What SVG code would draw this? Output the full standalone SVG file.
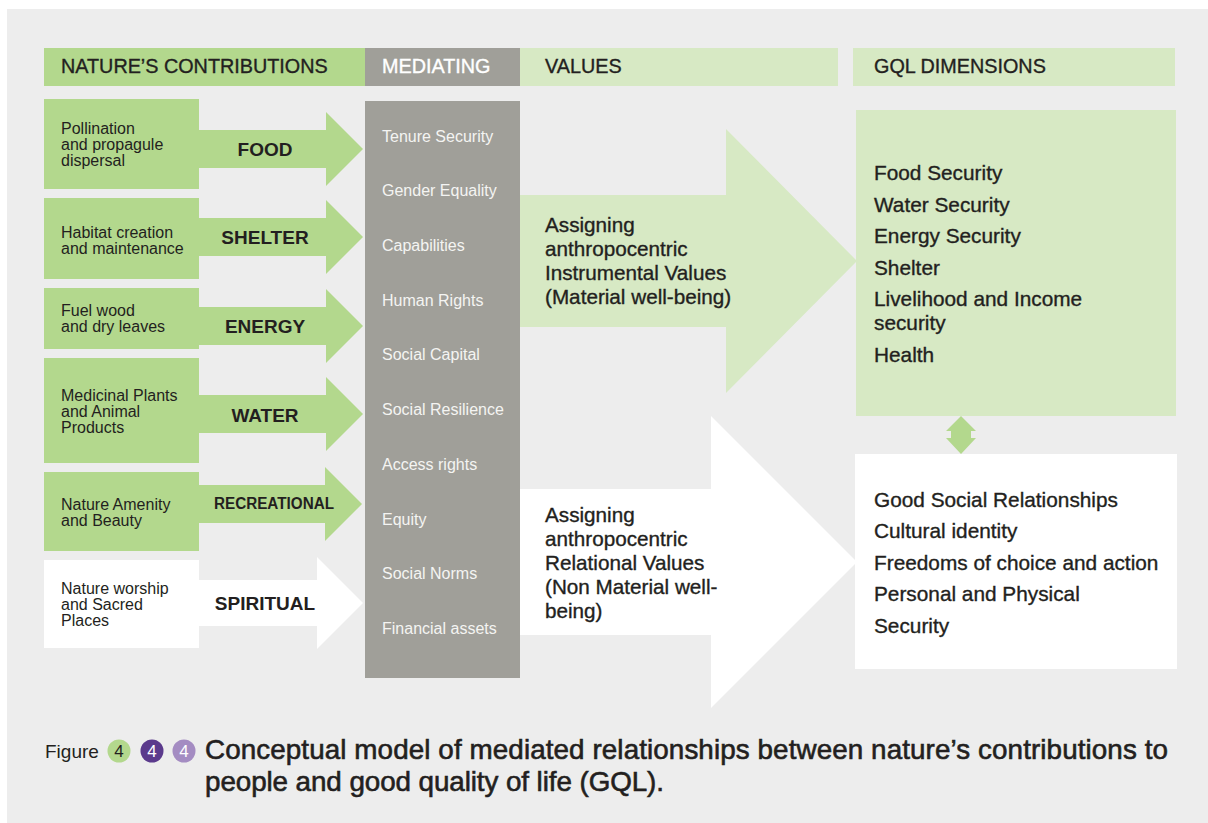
<svg xmlns="http://www.w3.org/2000/svg" width="1208" height="823" viewBox="0 0 1208 823">
<style>
text{font-family:"Liberation Sans",Arial,Helvetica,sans-serif;}
.g{fill:#B3D88D;}
.lg{fill:#D7E9C4;}
.gr{fill:#A09F99;}
.w{fill:#FFFFFF;}
.hd{font-size:19.8px;fill:#231F20;stroke:#231F20;stroke-width:0.35;}
.hdw{font-size:19.8px;fill:#FFFFFF;stroke:#FFFFFF;stroke-width:0.35;}
.src{font-size:16px;fill:#231F20;}
.lbl{font-size:19px;font-weight:bold;fill:#231F20;text-anchor:middle;}
.med{font-size:16px;fill:#F4F4F2;}
.big{font-size:20.7px;fill:#231F20;stroke:#231F20;stroke-width:0.35;}
.gql{font-size:20.8px;fill:#231F20;stroke:#231F20;stroke-width:0.35;}
.cap{font-size:27.8px;fill:#231F20;stroke:#231F20;stroke-width:0.6;}
.fig{font-size:19px;fill:#231F20;}
.num{font-size:17px;text-anchor:middle;}
</style>
<rect x="7" y="9" width="1201" height="814" fill="#EDEDED"/>

<g id="headers">
  <rect class="g" x="44" y="48" width="321" height="38"/>
  <text class="hd" x="61" y="73">NATURE’S CONTRIBUTIONS</text>
  <rect class="gr" x="365" y="48" width="155" height="38"/>
  <text class="hdw" x="382" y="73">MEDIATING</text>
  <rect class="lg" x="520" y="48" width="318" height="38"/>
  <text class="hd" x="545" y="73">VALUES</text>
  <rect class="lg" x="853" y="48" width="322" height="38"/>
  <text class="hd" x="874" y="73">GQL DIMENSIONS</text>
</g>

<g id="connectors">
  <polygon class="g" points="199,130 326,130 326,112 363,149 326,186 326,168 199,168"/>
  <polygon class="g" points="199,218 326,218 326,200 363,237 326,274 326,256 199,256"/>
  <polygon class="g" points="199,307 326,307 326,289 363,326 326,363 326,345 199,345"/>
  <polygon class="g" points="199,395 326,395 326,377 363,414 326,451 326,433 199,433"/>
  <polygon class="g" points="199,485 325,485 325,467 362,504 325,541 325,523 199,523"/>
  <polygon class="w" points="199,580 317,580 317,557 363,603 317,649 317,626 199,626"/>
  <polygon class="lg" points="520,195 726,195 726,129 857,261 726,393 726,327 520,327"/>
  <polygon class="w" points="520,489 711,489 711,416 857,562 711,708 711,635 520,635"/>
  <polygon class="g" points="961,416 976,431 971,431 971,438 976,438 961,454 946,438 951,438 951,431 946,431"/>
  <text class="lbl" x="265" y="156">FOOD</text>
  <text class="lbl" x="265" y="244">SHELTER</text>
  <text class="lbl" x="265" y="333">ENERGY</text>
  <text class="lbl" x="265" y="422">WATER</text>
  <text class="lbl" x="274" y="509" style="font-size:16px" textLength="120" lengthAdjust="spacingAndGlyphs">RECREATIONAL</text>
  <text class="lbl" x="265" y="610">SPIRITUAL</text>
  <text class="big" x="545" y="232">Assigning</text>
  <text class="big" x="545" y="256">anthropocentric</text>
  <text class="big" x="545" y="280">Instrumental Values</text>
  <text class="big" x="545" y="304">(Material well-being)</text>
  <text class="big" x="545" y="522">Assigning</text>
  <text class="big" x="545" y="546">anthropocentric</text>
  <text class="big" x="545" y="570">Relational Values</text>
  <text class="big" x="545" y="594">(Non Material well-</text>
  <text class="big" x="545" y="618">being)</text>
</g>

<g id="n-pollination">
  <rect class="g" x="44" y="99" width="155" height="90"/>
  <text class="src" x="61" y="134">Pollination</text>
  <text class="src" x="61" y="150">and propagule</text>
  <text class="src" x="61" y="166">dispersal</text>
</g>
<g id="n-habitat">
  <rect class="g" x="44" y="198" width="155" height="81"/>
  <text class="src" x="61" y="238">Habitat creation</text>
  <text class="src" x="61" y="254">and maintenance</text>
</g>
<g id="n-fuel">
  <rect class="g" x="44" y="288" width="155" height="61"/>
  <text class="src" x="61" y="316">Fuel wood</text>
  <text class="src" x="61" y="332">and dry leaves</text>
</g>
<g id="n-medicinal">
  <rect class="g" x="44" y="358" width="155" height="105"/>
  <text class="src" x="61" y="401">Medicinal Plants</text>
  <text class="src" x="61" y="417">and Animal</text>
  <text class="src" x="61" y="433">Products</text>
</g>
<g id="n-amenity">
  <rect class="g" x="44" y="472" width="155" height="79"/>
  <text class="src" x="61" y="510">Nature Amenity</text>
  <text class="src" x="61" y="526">and Beauty</text>
</g>
<g id="n-worship">
  <rect class="w" x="44" y="560" width="155" height="88"/>
  <text class="src" x="61" y="594">Nature worship</text>
  <text class="src" x="61" y="610">and Sacred</text>
  <text class="src" x="61" y="626">Places</text>
</g>

<g id="n-mediating">
  <rect class="gr" x="365" y="101" width="155" height="577"/>
  <text class="med" x="382" y="142">Tenure Security</text>
  <text class="med" x="382" y="196">Gender Equality</text>
  <text class="med" x="382" y="251">Capabilities</text>
  <text class="med" x="382" y="306">Human Rights</text>
  <text class="med" x="382" y="360">Social Capital</text>
  <text class="med" x="382" y="415">Social Resilience</text>
  <text class="med" x="382" y="470">Access rights</text>
  <text class="med" x="382" y="525">Equity</text>
  <text class="med" x="382" y="579">Social Norms</text>
  <text class="med" x="382" y="634">Financial assets</text>
</g>

<g id="n-gql-material">
  <rect class="lg" x="856" y="110" width="320" height="306"/>
  <text class="gql" x="874" y="180">Food Security</text>
  <text class="gql" x="874" y="212">Water Security</text>
  <text class="gql" x="874" y="243">Energy Security</text>
  <text class="gql" x="874" y="275">Shelter</text>
  <text class="gql" x="874" y="306">Livelihood and Income</text>
  <text class="gql" x="874" y="330">security</text>
  <text class="gql" x="874" y="362">Health</text>
</g>

<g id="n-gql-relational">
  <rect class="w" x="855" y="454" width="322" height="215"/>
  <text class="gql" x="874" y="507">Good Social Relationships</text>
  <text class="gql" x="874" y="538">Cultural identity</text>
  <text class="gql" x="874" y="570">Freedoms of choice and action</text>
  <text class="gql" x="874" y="601">Personal and Physical</text>
  <text class="gql" x="874" y="633">Security</text>
</g>

<g id="caption">
  <text class="fig" x="45" y="758">Figure</text>
  <circle cx="119" cy="751" r="11.5" fill="#B3D88D"/>
  <text class="num" x="119" y="757" fill="#231F20">4</text>
  <circle cx="152" cy="751" r="11.5" fill="#5B3A8C"/>
  <text class="num" x="152" y="757" fill="#FFFFFF">4</text>
  <circle cx="184" cy="751" r="11.5" fill="#A48CC2"/>
  <text class="num" x="184" y="757" fill="#FFFFFF">4</text>
  <text class="cap" x="205" y="759" textLength="963" lengthAdjust="spacing">Conceptual model of mediated relationships between nature’s contributions to</text>
  <text class="cap" x="205" y="791" textLength="459" lengthAdjust="spacing">people and good quality of life (GQL).</text>
</g>
</svg>
